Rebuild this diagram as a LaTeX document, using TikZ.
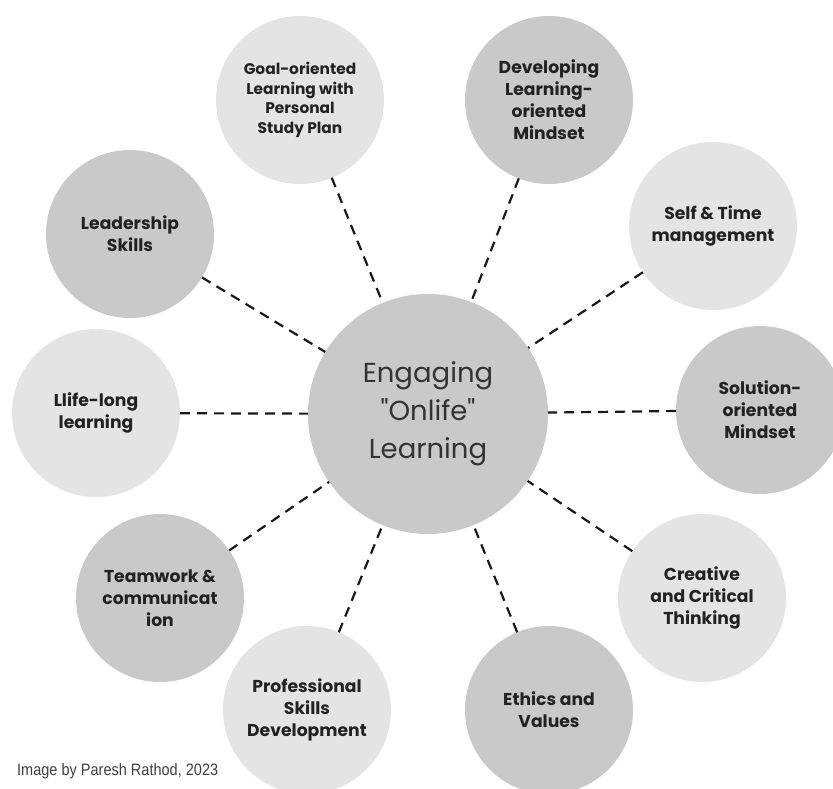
\documentclass[tikz,border=0pt]{standalone}
\usepackage{fontspec}
\setmainfont{Poppins}
\newfontfamily\centerfont[Ligatures=TeXOff]{Poppins}
\newfontfamily\creditfont[FakeStretch=0.88]{Liberation Sans}
\definecolor{lightc}{HTML}{E4E4E4}
\definecolor{darkc}{HTML}{C9C9C9}
\definecolor{txt}{HTML}{222222}
\definecolor{ctxt}{HTML}{333333}
\begin{document}
\begin{tikzpicture}[x=1pt,y=-1pt,
  bub/.style={circle, inner sep=0pt, outer sep=0pt, minimum size=168pt, align=center,
    text=txt, font=\bfseries\fontsize{17.2}{22}\selectfont},
  lightbub/.style={bub, fill=lightc},
  darkbub/.style={bub, fill=darkc},
  conn/.style={draw=black!90, line width=2.2pt, dash pattern=on 10pt off 7pt}]
\clip (0,0) rectangle (833,788);
\useasboundingbox (0,0) rectangle (833,788);
\fill[white] (0,0) rectangle (833,788);
\node[circle, inner sep=0pt, outer sep=0pt, minimum size=240pt, fill=darkc, align=center,
  text=ctxt, font=\centerfont\fontsize{27.5}{38}\selectfont] (c) at (428,414)
  {Engaging\\"Onlife"\\Learning};
\node[lightbub, font=\bfseries\fontsize{15.4}{19.5}\selectfont] (goal) at (300,100)
  {Goal-oriented\\Learning with\\Personal\\Study Plan};
\node[darkbub] (dev) at (549,100) {Developing\\Learning-\\oriented\\Mindset};
\node[lightbub] (self) at (713,226) {Self \& Time\\management};
\node[darkbub] (sol) at (760,410) {Solution-\\oriented\\Mindset};
\node[lightbub] (crea) at (702,598) {Creative\\and Critical\\Thinking};
\node[darkbub] (eth) at (549,710) {Ethics and\\Values};
\node[lightbub] (prof) at (307,710) {Professional\\Skills\\Development};
\node[darkbub] (team) at (160,598) {Teamwork \&\\communicat\\ion};
\node[lightbub] (life) at (96,413) {Llife-long\\learning};
\node[darkbub] (lead) at (130,234) {Leadership\\Skills};
\foreach \n in {goal,dev,self,sol,crea,eth,prof,team,life,lead}
  \draw[conn] (\n) -- (c);
\node[anchor=base west, inner sep=0pt, text=black!75, font=\creditfont\fontsize{16.5}{18}\selectfont] (credit) at (17,775)
  {Image by Paresh Rathod, 2023};
\end{tikzpicture}
\end{document}
